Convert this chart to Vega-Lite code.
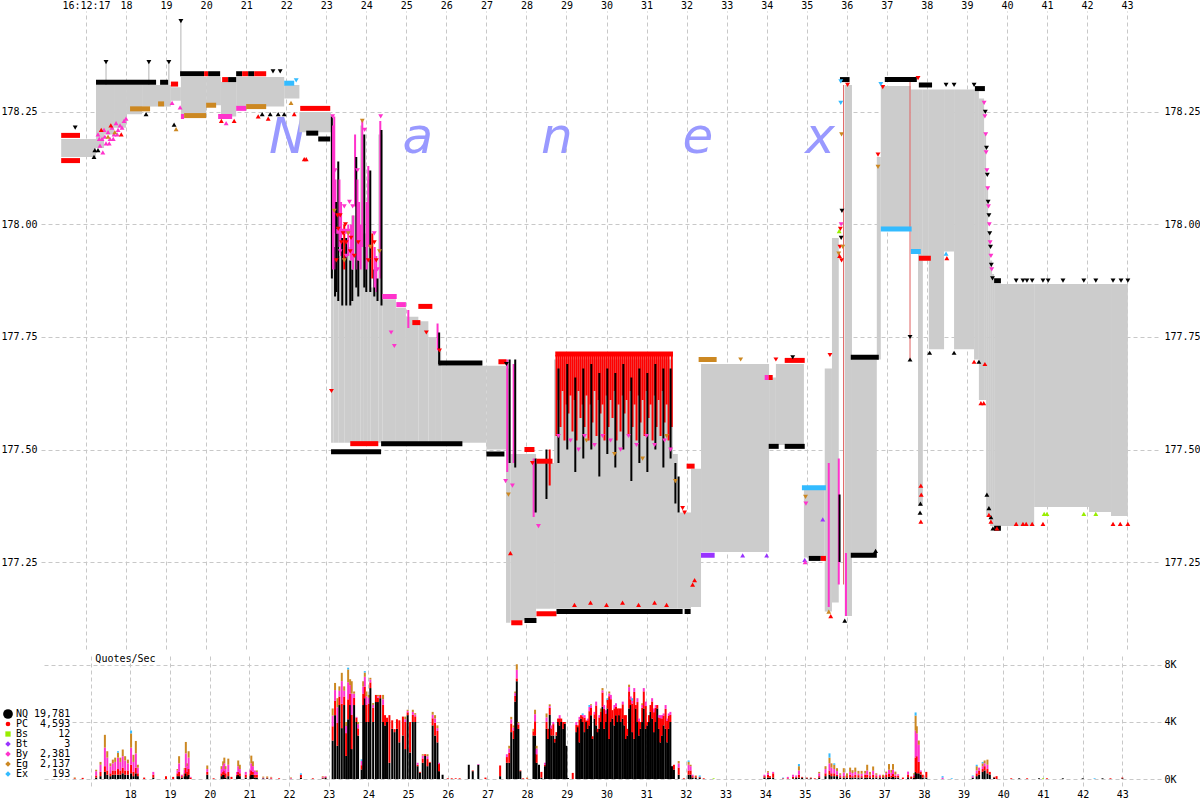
{
"$schema":"https://vega.github.io/schema/vega-lite/v6.json",
"padding":0,
"background":"white",
"spacing":4,
"config":{"view":{"stroke":null},"axis":{"labelFont":"DejaVu Sans Mono","labelFontSize":10,"labelColor":"#000000","domain":false,"ticks":false,"gridColor":"#c8c8c8","gridDash":[4,3],"labelOverlap":false,"labelFlush":false}},
"datasets":{
"band":[
{"t1":16.38,"t2":17.25,"a":178.19,"b":178.15},
{"t1":17.25,"t2":17.45,"a":178.31,"b":178.17},
{"t1":17.45,"t2":17.7,"a":178.31,"b":178.2},
{"t1":17.7,"t2":18.0,"a":178.31,"b":178.215},
{"t1":18.0,"t2":18.4,"a":178.31,"b":178.245},
{"t1":18.4,"t2":19.12,"a":178.31,"b":178.262},
{"t1":19.12,"t2":19.37,"a":178.305,"b":178.275},
{"t1":19.37,"t2":20.0,"a":178.328,"b":178.245},
{"t1":20.0,"t2":20.37,"a":178.328,"b":178.265},
{"t1":20.37,"t2":20.75,"a":178.317,"b":178.24},
{"t1":20.75,"t2":21.95,"a":178.328,"b":178.262},
{"t1":21.95,"t2":22.33,"a":178.31,"b":178.28},
{"t1":22.33,"t2":23.12,"a":178.25,"b":178.205},
{"t1":23.12,"t2":23.18,"a":177.9,"b":177.515},
{"t1":23.18,"t2":23.3,"a":177.98,"b":177.515},
{"t1":23.3,"t2":23.45,"a":177.93,"b":177.515},
{"t1":23.45,"t2":23.62,"a":177.95,"b":177.515},
{"t1":23.62,"t2":23.72,"a":178.02,"b":177.515},
{"t1":23.72,"t2":23.85,"a":177.92,"b":177.515},
{"t1":23.85,"t2":23.92,"a":178.22,"b":177.515},
{"t1":23.92,"t2":24.02,"a":177.98,"b":177.515},
{"t1":24.02,"t2":24.1,"a":178.1,"b":177.515},
{"t1":24.1,"t2":24.3,"a":177.86,"b":177.515},
{"t1":24.3,"t2":24.4,"a":178.2,"b":177.515},
{"t1":24.4,"t2":24.74,"a":177.834,"b":177.515},
{"t1":24.74,"t2":24.99,"a":177.815,"b":177.515},
{"t1":24.99,"t2":25.3,"a":177.795,"b":177.515},
{"t1":25.3,"t2":25.55,"a":177.785,"b":177.515},
{"t1":25.55,"t2":25.74,"a":177.75,"b":177.515},
{"t1":25.74,"t2":25.87,"a":177.72,"b":177.515},
{"t1":25.87,"t2":27.0,"a":177.686,"b":177.515},
{"t1":27.0,"t2":27.49,"a":177.686,"b":177.5},
{"t1":27.49,"t2":27.6,"a":177.68,"b":177.115},
{"t1":27.6,"t2":28.24,"a":177.49,"b":177.12},
{"t1":28.24,"t2":28.69,"a":177.47,"b":177.146},
{"t1":28.69,"t2":31.66,"a":177.7,"b":177.146},
{"t1":31.66,"t2":31.78,"a":177.49,"b":177.146},
{"t1":31.78,"t2":32.11,"a":177.36,"b":177.146},
{"t1":32.11,"t2":32.36,"a":177.457,"b":177.15},
{"t1":32.36,"t2":34.06,"a":177.69,"b":177.272},
{"t1":34.06,"t2":34.23,"a":177.66,"b":177.51},
{"t1":34.23,"t2":34.93,"a":177.69,"b":177.51},
{"t1":34.93,"t2":35.45,"a":177.41,"b":177.26},
{"t1":35.45,"t2":35.63,"a":177.68,"b":177.14},
{"t1":35.63,"t2":35.8,"a":177.97,"b":177.16},
{"t1":35.95,"t2":36.13,"a":178.31,"b":177.13},
{"t1":36.13,"t2":36.75,"a":177.7,"b":177.27},
{"t1":36.75,"t2":36.85,"a":178.15,"b":177.7},
{"t1":36.85,"t2":37.6,"a":178.308,"b":177.994},
{"t1":37.6,"t2":37.78,"a":178.3,"b":177.94},
{"t1":37.78,"t2":37.9,"a":178.3,"b":177.375},
{"t1":37.9,"t2":38.05,"a":178.3,"b":177.92},
{"t1":38.05,"t2":38.43,"a":178.3,"b":177.723},
{"t1":38.43,"t2":38.68,"a":178.3,"b":177.94},
{"t1":38.68,"t2":39.18,"a":178.3,"b":177.723},
{"t1":39.18,"t2":39.3,"a":178.3,"b":177.7},
{"t1":39.3,"t2":39.43,"a":178.28,"b":177.61},
{"t1":39.43,"t2":39.48,"a":178.2,"b":177.61},
{"t1":39.48,"t2":39.53,"a":178.08,"b":177.35},
{"t1":39.53,"t2":39.58,"a":177.98,"b":177.35},
{"t1":39.58,"t2":39.63,"a":177.92,"b":177.33},
{"t1":39.63,"t2":39.68,"a":177.89,"b":177.33},
{"t1":39.68,"t2":40.68,"a":177.868,"b":177.33},
{"t1":40.68,"t2":42.05,"a":177.868,"b":177.372},
{"t1":42.05,"t2":42.6,"a":177.868,"b":177.361},
{"t1":42.6,"t2":43.02,"a":177.868,"b":177.352}
],
"strips":[
{"t1":16.38,"t2":16.85,"p":178.198,"ex":"PC"},
{"t1":16.38,"t2":16.85,"p":178.142,"ex":"PC"},
{"t1":17.25,"t2":18.75,"p":178.316,"ex":"NQ"},
{"t1":18.85,"t2":19.05,"p":178.316,"ex":"NQ"},
{"t1":19.12,"t2":19.3,"p":178.312,"ex":"PC"},
{"t1":19.35,"t2":19.95,"p":178.335,"ex":"NQ"},
{"t1":19.95,"t2":20.05,"p":178.335,"ex":"PC"},
{"t1":20.05,"t2":20.35,"p":178.335,"ex":"NQ"},
{"t1":20.4,"t2":20.55,"p":178.322,"ex":"PC"},
{"t1":20.55,"t2":20.75,"p":178.322,"ex":"NQ"},
{"t1":20.75,"t2":20.9,"p":178.335,"ex":"NQ"},
{"t1":20.9,"t2":21.05,"p":178.335,"ex":"PC"},
{"t1":21.05,"t2":21.2,"p":178.335,"ex":"NQ"},
{"t1":21.2,"t2":21.5,"p":178.335,"ex":"PC"},
{"t1":21.95,"t2":22.2,"p":178.314,"ex":"Ex"},
{"t1":22.35,"t2":23.1,"p":178.258,"ex":"PC"},
{"t1":23.25,"t2":23.6,"p":177.985,"ex":"By"},
{"t1":24.4,"t2":24.76,"p":177.84,"ex":"By"},
{"t1":24.75,"t2":24.99,"p":177.822,"ex":"By"},
{"t1":25.15,"t2":25.35,"p":177.782,"ex":"PC"},
{"t1":25.3,"t2":25.65,"p":177.818,"ex":"PC"},
{"t1":25.8,"t2":26.9,"p":177.692,"ex":"NQ"},
{"t1":27.3,"t2":27.5,"p":177.695,"ex":"PC"},
{"t1":27.95,"t2":28.2,"p":177.5,"ex":"PC"},
{"t1":28.25,"t2":28.65,"p":177.474,"ex":"PC"},
{"t1":28.72,"t2":31.66,"p":177.712,"ex":"PC"},
{"t1":32.0,"t2":32.2,"p":177.463,"ex":"PC"},
{"t1":32.3,"t2":32.75,"p":177.7,"ex":"Eg"},
{"t1":33.95,"t2":34.05,"p":177.66,"ex":"By"},
{"t1":34.05,"t2":34.15,"p":177.66,"ex":"PC"},
{"t1":34.45,"t2":34.95,"p":177.698,"ex":"PC"},
{"t1":34.88,"t2":35.48,"p":177.415,"ex":"Ex"},
{"t1":35.83,"t2":36.07,"p":178.322,"ex":"NQ"},
{"t1":36.1,"t2":36.8,"p":177.705,"ex":"NQ"},
{"t1":36.95,"t2":37.75,"p":178.322,"ex":"NQ"},
{"t1":37.8,"t2":38.13,"p":178.31,"ex":"NQ"},
{"t1":39.2,"t2":39.45,"p":178.302,"ex":"NQ"},
{"t1":39.68,"t2":39.85,"p":177.875,"ex":"NQ"},
{"t1":18.1,"t2":18.6,"p":178.257,"ex":"Eg"},
{"t1":18.8,"t2":18.95,"p":178.268,"ex":"Eg"},
{"t1":19.37,"t2":19.45,"p":178.24,"ex":"By"},
{"t1":19.45,"t2":20.0,"p":178.242,"ex":"Eg"},
{"t1":20.0,"t2":20.25,"p":178.265,"ex":"Eg"},
{"t1":20.3,"t2":20.65,"p":178.24,"ex":"By"},
{"t1":20.75,"t2":21.0,"p":178.258,"ex":"By"},
{"t1":21.0,"t2":21.5,"p":178.262,"ex":"Eg"},
{"t1":22.5,"t2":22.8,"p":178.203,"ex":"NQ"},
{"t1":22.8,"t2":23.1,"p":178.19,"ex":"NQ"},
{"t1":23.12,"t2":24.37,"p":177.495,"ex":"NQ"},
{"t1":23.6,"t2":24.3,"p":177.513,"ex":"PC"},
{"t1":24.37,"t2":26.4,"p":177.513,"ex":"NQ"},
{"t1":27.0,"t2":27.45,"p":177.49,"ex":"NQ"},
{"t1":27.62,"t2":27.9,"p":177.115,"ex":"PC"},
{"t1":27.95,"t2":28.25,"p":177.12,"ex":"NQ"},
{"t1":28.25,"t2":28.75,"p":177.135,"ex":"PC"},
{"t1":28.75,"t2":31.9,"p":177.14,"ex":"NQ"},
{"t1":31.95,"t2":32.1,"p":177.14,"ex":"NQ"},
{"t1":32.36,"t2":32.7,"p":177.265,"ex":"Bt"},
{"t1":34.05,"t2":34.3,"p":177.507,"ex":"NQ"},
{"t1":34.45,"t2":34.95,"p":177.507,"ex":"NQ"},
{"t1":35.05,"t2":35.35,"p":177.258,"ex":"NQ"},
{"t1":35.35,"t2":35.48,"p":177.258,"ex":"PC"},
{"t1":36.1,"t2":36.75,"p":177.265,"ex":"NQ"},
{"t1":36.85,"t2":37.62,"p":177.99,"ex":"Ex"},
{"t1":37.6,"t2":37.85,"p":177.94,"ex":"Ex"},
{"t1":37.8,"t2":38.1,"p":177.925,"ex":"PC"},
{"t1":39.68,"t2":39.85,"p":177.325,"ex":"NQ"}
],
"streaks":[
{"t":23.14,"p1":177.88,"p2":178.24,"ex":"NQ"},
{"t":23.17,"p1":177.9,"p2":178.22,"ex":"By"},
{"t":23.2,"p1":177.98,"p2":178.24,"ex":"By"},
{"t":23.22,"p1":177.84,"p2":177.95,"ex":"NQ"},
{"t":23.23,"p1":177.9,"p2":178.1,"ex":"By"},
{"t":23.25,"p1":177.85,"p2":178.05,"ex":"NQ"},
{"t":23.3,"p1":177.83,"p2":178.14,"ex":"NQ"},
{"t":23.33,"p1":177.95,"p2":178.1,"ex":"By"},
{"t":23.37,"p1":177.93,"p2":178.05,"ex":"By"},
{"t":23.4,"p1":177.82,"p2":177.97,"ex":"NQ"},
{"t":23.45,"p1":177.9,"p2":178.0,"ex":"PC"},
{"t":23.5,"p1":177.82,"p2":177.97,"ex":"NQ"},
{"t":23.55,"p1":177.93,"p2":178.0,"ex":"By"},
{"t":23.6,"p1":177.82,"p2":177.92,"ex":"NQ"},
{"t":23.62,"p1":177.92,"p2":178.0,"ex":"By"},
{"t":23.65,"p1":177.83,"p2":177.9,"ex":"NQ"},
{"t":23.67,"p1":177.9,"p2":178.02,"ex":"By"},
{"t":23.72,"p1":178.04,"p2":178.2,"ex":"By"},
{"t":23.75,"p1":177.86,"p2":178.15,"ex":"NQ"},
{"t":23.78,"p1":177.9,"p2":178.1,"ex":"By"},
{"t":23.8,"p1":177.84,"p2":177.92,"ex":"NQ"},
{"t":23.82,"p1":177.92,"p2":178.05,"ex":"By"},
{"t":23.86,"p1":177.9,"p2":178.0,"ex":"By"},
{"t":23.9,"p1":177.95,"p2":178.23,"ex":"By"},
{"t":23.95,"p1":177.86,"p2":178.2,"ex":"NQ"},
{"t":24.0,"p1":177.85,"p2":177.95,"ex":"NQ"},
{"t":24.01,"p1":177.9,"p2":178.05,"ex":"By"},
{"t":24.05,"p1":177.95,"p2":178.13,"ex":"By"},
{"t":24.1,"p1":177.85,"p2":178.12,"ex":"NQ"},
{"t":24.15,"p1":177.88,"p2":177.98,"ex":"PC"},
{"t":24.2,"p1":177.84,"p2":177.9,"ex":"NQ"},
{"t":24.21,"p1":177.86,"p2":177.95,"ex":"By"},
{"t":24.25,"p1":177.85,"p2":177.93,"ex":"By"},
{"t":24.28,"p1":177.83,"p2":177.88,"ex":"NQ"},
{"t":24.35,"p1":177.88,"p2":178.23,"ex":"By"},
{"t":24.38,"p1":177.82,"p2":178.21,"ex":"NQ"},
{"t":25.05,"p1":177.77,"p2":177.81,"ex":"By"},
{"t":25.78,"p1":177.72,"p2":177.78,"ex":"By"},
{"t":25.82,"p1":177.69,"p2":177.76,"ex":"NQ"},
{"t":27.52,"p1":177.45,"p2":177.7,"ex":"By"},
{"t":27.58,"p1":177.47,"p2":177.7,"ex":"NQ"},
{"t":27.68,"p1":177.47,"p2":177.69,"ex":"By"},
{"t":27.72,"p1":177.46,"p2":177.7,"ex":"NQ"},
{"t":28.18,"p1":177.35,"p2":177.48,"ex":"By"},
{"t":28.23,"p1":177.36,"p2":177.48,"ex":"NQ"},
{"t":28.5,"p1":177.39,"p2":177.5,"ex":"NQ"},
{"t":28.58,"p1":177.42,"p2":177.5,"ex":"PC"},
{"t":28.75,"p1":177.53,"p2":177.71,"ex":"PC"},
{"t":28.8,"p1":177.61,"p2":177.71,"ex":"PC"},
{"t":28.85,"p1":177.55,"p2":177.71,"ex":"PC"},
{"t":28.9,"p1":177.63,"p2":177.71,"ex":"PC"},
{"t":28.95,"p1":177.52,"p2":177.71,"ex":"PC"},
{"t":29.0,"p1":177.6,"p2":177.71,"ex":"PC"},
{"t":29.05,"p1":177.58,"p2":177.71,"ex":"PC"},
{"t":29.1,"p1":177.62,"p2":177.71,"ex":"PC"},
{"t":29.15,"p1":177.54,"p2":177.71,"ex":"PC"},
{"t":29.2,"p1":177.61,"p2":177.71,"ex":"PC"},
{"t":29.25,"p1":177.52,"p2":177.71,"ex":"PC"},
{"t":29.3,"p1":177.63,"p2":177.71,"ex":"PC"},
{"t":29.35,"p1":177.57,"p2":177.71,"ex":"PC"},
{"t":29.4,"p1":177.6,"p2":177.71,"ex":"PC"},
{"t":29.45,"p1":177.55,"p2":177.71,"ex":"PC"},
{"t":29.5,"p1":177.62,"p2":177.71,"ex":"PC"},
{"t":29.55,"p1":177.52,"p2":177.71,"ex":"PC"},
{"t":29.6,"p1":177.6,"p2":177.71,"ex":"PC"},
{"t":29.65,"p1":177.56,"p2":177.71,"ex":"PC"},
{"t":29.7,"p1":177.63,"p2":177.71,"ex":"PC"},
{"t":29.75,"p1":177.53,"p2":177.71,"ex":"PC"},
{"t":29.8,"p1":177.61,"p2":177.71,"ex":"PC"},
{"t":29.85,"p1":177.58,"p2":177.71,"ex":"PC"},
{"t":29.9,"p1":177.6,"p2":177.71,"ex":"PC"},
{"t":29.95,"p1":177.52,"p2":177.71,"ex":"PC"},
{"t":30.0,"p1":177.62,"p2":177.71,"ex":"PC"},
{"t":30.05,"p1":177.55,"p2":177.71,"ex":"PC"},
{"t":30.1,"p1":177.61,"p2":177.71,"ex":"PC"},
{"t":30.15,"p1":177.57,"p2":177.71,"ex":"PC"},
{"t":30.2,"p1":177.63,"p2":177.71,"ex":"PC"},
{"t":30.25,"p1":177.52,"p2":177.71,"ex":"PC"},
{"t":30.3,"p1":177.6,"p2":177.71,"ex":"PC"},
{"t":30.35,"p1":177.54,"p2":177.71,"ex":"PC"},
{"t":30.4,"p1":177.62,"p2":177.71,"ex":"PC"},
{"t":30.45,"p1":177.58,"p2":177.71,"ex":"PC"},
{"t":30.5,"p1":177.61,"p2":177.71,"ex":"PC"},
{"t":30.55,"p1":177.53,"p2":177.71,"ex":"PC"},
{"t":30.6,"p1":177.63,"p2":177.71,"ex":"PC"},
{"t":30.65,"p1":177.55,"p2":177.71,"ex":"PC"},
{"t":30.7,"p1":177.6,"p2":177.71,"ex":"PC"},
{"t":30.75,"p1":177.52,"p2":177.71,"ex":"PC"},
{"t":30.8,"p1":177.62,"p2":177.71,"ex":"PC"},
{"t":30.85,"p1":177.56,"p2":177.71,"ex":"PC"},
{"t":30.9,"p1":177.61,"p2":177.71,"ex":"PC"},
{"t":30.95,"p1":177.53,"p2":177.71,"ex":"PC"},
{"t":31.0,"p1":177.63,"p2":177.71,"ex":"PC"},
{"t":31.05,"p1":177.57,"p2":177.71,"ex":"PC"},
{"t":31.1,"p1":177.6,"p2":177.71,"ex":"PC"},
{"t":31.15,"p1":177.52,"p2":177.71,"ex":"PC"},
{"t":31.2,"p1":177.62,"p2":177.71,"ex":"PC"},
{"t":31.25,"p1":177.55,"p2":177.71,"ex":"PC"},
{"t":31.3,"p1":177.61,"p2":177.71,"ex":"PC"},
{"t":31.35,"p1":177.53,"p2":177.71,"ex":"PC"},
{"t":31.4,"p1":177.63,"p2":177.71,"ex":"PC"},
{"t":31.45,"p1":177.56,"p2":177.71,"ex":"PC"},
{"t":31.5,"p1":177.6,"p2":177.71,"ex":"PC"},
{"t":31.55,"p1":177.52,"p2":177.71,"ex":"PC"},
{"t":31.63,"p1":177.55,"p2":177.71,"ex":"PC"},
{"t":28.8,"p1":177.47,"p2":177.68,"ex":"NQ"},
{"t":29.02,"p1":177.5,"p2":177.69,"ex":"NQ"},
{"t":29.22,"p1":177.45,"p2":177.66,"ex":"NQ"},
{"t":29.42,"p1":177.48,"p2":177.68,"ex":"NQ"},
{"t":29.62,"p1":177.5,"p2":177.69,"ex":"NQ"},
{"t":29.82,"p1":177.44,"p2":177.67,"ex":"NQ"},
{"t":30.02,"p1":177.49,"p2":177.68,"ex":"NQ"},
{"t":30.22,"p1":177.46,"p2":177.67,"ex":"NQ"},
{"t":30.42,"p1":177.5,"p2":177.69,"ex":"NQ"},
{"t":30.62,"p1":177.43,"p2":177.66,"ex":"NQ"},
{"t":30.82,"p1":177.47,"p2":177.68,"ex":"NQ"},
{"t":31.02,"p1":177.45,"p2":177.67,"ex":"NQ"},
{"t":31.22,"p1":177.5,"p2":177.69,"ex":"NQ"},
{"t":31.42,"p1":177.46,"p2":177.68,"ex":"NQ"},
{"t":31.6,"p1":177.48,"p2":177.68,"ex":"NQ"},
{"t":31.72,"p1":177.38,"p2":177.47,"ex":"NQ"},
{"t":31.8,"p1":177.36,"p2":177.44,"ex":"NQ"},
{"t":35.55,"p1":177.15,"p2":177.47,"ex":"By"},
{"t":35.8,"p1":177.2,"p2":177.48,"ex":"By"},
{"t":35.82,"p1":177.25,"p2":177.4,"ex":"NQ"},
{"t":35.98,"p1":177.13,"p2":177.27,"ex":"By"}
],
"stems":[
{"t":17.5,"p1":178.31,"p2":178.36},
{"t":18.57,"p1":178.31,"p2":178.36},
{"t":19.07,"p1":178.31,"p2":178.36},
{"t":19.37,"p1":178.33,"p2":178.45}
],
"redlines":[
{"t":35.92,"p1":177.2,"p2":178.31},
{"t":37.58,"p1":177.7,"p2":178.32}
],
"wm":[
{"ch":"N","t":22.04},{"ch":"a","t":25.29},{"ch":"n","t":28.76},{"ch":"e","t":32.28},{"ch":"x","t":35.33}
],
"pts":[
{"t":16.73,"p":178.215,"ex":"NQ","s":"a"},
{"t":17.2,"p":178.15,"ex":"NQ","s":"b"},
{"t":17.22,"p":178.165,"ex":"NQ","s":"b"},
{"t":17.5,"p":178.361,"ex":"NQ","s":"a"},
{"t":18.57,"p":178.361,"ex":"NQ","s":"a"},
{"t":19.07,"p":178.361,"ex":"NQ","s":"a"},
{"t":19.37,"p":178.452,"ex":"NQ","s":"a"},
{"t":17.3,"p":178.2,"ex":"By","s":"b"},
{"t":17.35,"p":178.175,"ex":"By","s":"b"},
{"t":17.4,"p":178.19,"ex":"By","s":"b"},
{"t":17.45,"p":178.21,"ex":"By","s":"b"},
{"t":17.5,"p":178.18,"ex":"By","s":"b"},
{"t":17.55,"p":178.205,"ex":"By","s":"b"},
{"t":17.6,"p":178.19,"ex":"By","s":"b"},
{"t":17.65,"p":178.215,"ex":"By","s":"b"},
{"t":17.7,"p":178.2,"ex":"By","s":"b"},
{"t":17.75,"p":178.225,"ex":"By","s":"b"},
{"t":17.8,"p":178.21,"ex":"By","s":"b"},
{"t":17.85,"p":178.22,"ex":"By","s":"b"},
{"t":17.9,"p":178.215,"ex":"By","s":"b"},
{"t":17.95,"p":178.23,"ex":"By","s":"b"},
{"t":18.0,"p":178.235,"ex":"By","s":"b"},
{"t":17.42,"p":178.16,"ex":"By","s":"b"},
{"t":17.33,"p":178.19,"ex":"By","s":"b"},
{"t":17.47,"p":178.195,"ex":"By","s":"b"},
{"t":17.58,"p":178.18,"ex":"By","s":"b"},
{"t":17.68,"p":178.19,"ex":"By","s":"b"},
{"t":17.78,"p":178.2,"ex":"By","s":"b"},
{"t":17.38,"p":178.21,"ex":"PC","s":"b"},
{"t":17.62,"p":178.22,"ex":"PC","s":"b"},
{"t":17.88,"p":178.2,"ex":"PC","s":"b"},
{"t":17.55,"p":178.195,"ex":"Eg","s":"b"},
{"t":17.72,"p":178.205,"ex":"Eg","s":"b"},
{"t":17.3,"p":178.165,"ex":"NQ","s":"b"},
{"t":18.5,"p":178.245,"ex":"NQ","s":"b"},
{"t":19.2,"p":178.222,"ex":"NQ","s":"b"},
{"t":19.25,"p":178.212,"ex":"Eg","s":"b"},
{"t":19.35,"p":178.26,"ex":"By","s":"b"},
{"t":19.15,"p":178.27,"ex":"By","s":"b"},
{"t":20.38,"p":178.23,"ex":"PC","s":"b"},
{"t":20.5,"p":178.225,"ex":"By","s":"b"},
{"t":20.7,"p":178.23,"ex":"PC","s":"b"},
{"t":21.3,"p":178.24,"ex":"PC","s":"b"},
{"t":21.4,"p":178.245,"ex":"NQ","s":"b"},
{"t":21.6,"p":178.245,"ex":"NQ","s":"b"},
{"t":21.8,"p":178.245,"ex":"NQ","s":"b"},
{"t":21.95,"p":178.245,"ex":"NQ","s":"b"},
{"t":21.55,"p":178.235,"ex":"PC","s":"b"},
{"t":22.12,"p":178.27,"ex":"Eg","s":"b"},
{"t":22.2,"p":178.245,"ex":"PC","s":"b"},
{"t":21.67,"p":178.34,"ex":"NQ","s":"a"},
{"t":21.85,"p":178.34,"ex":"NQ","s":"a"},
{"t":22.45,"p":178.145,"ex":"PC","s":"b"},
{"t":22.5,"p":178.145,"ex":"PC","s":"b"},
{"t":22.25,"p":178.32,"ex":"Ex","s":"a"},
{"t":23.28,"p":178.02,"ex":"PC","s":"a"},
{"t":23.35,"p":178.02,"ex":"PC","s":"a"},
{"t":23.3,"p":177.99,"ex":"PC","s":"a"},
{"t":23.38,"p":177.96,"ex":"PC","s":"a"},
{"t":23.5,"p":177.96,"ex":"PC","s":"a"},
{"t":23.6,"p":177.94,"ex":"PC","s":"a"},
{"t":23.25,"p":177.92,"ex":"PC","s":"a"},
{"t":23.42,"p":177.98,"ex":"PC","s":"a"},
{"t":23.48,"p":178.0,"ex":"PC","s":"a"},
{"t":23.62,"p":177.97,"ex":"PC","s":"a"},
{"t":23.7,"p":177.93,"ex":"PC","s":"a"},
{"t":23.8,"p":177.96,"ex":"PC","s":"a"},
{"t":24.05,"p":177.92,"ex":"PC","s":"a"},
{"t":24.2,"p":177.96,"ex":"PC","s":"a"},
{"t":24.25,"p":177.92,"ex":"PC","s":"a"},
{"t":23.13,"p":177.63,"ex":"PC","s":"a"},
{"t":23.2,"p":178.03,"ex":"Eg","s":"a"},
{"t":23.55,"p":177.98,"ex":"Eg","s":"a"},
{"t":24.1,"p":177.95,"ex":"Eg","s":"a"},
{"t":23.9,"p":178.23,"ex":"Eg","s":"a"},
{"t":24.33,"p":177.94,"ex":"Eg","s":"a"},
{"t":23.45,"p":177.92,"ex":"Eg","s":"a"},
{"t":23.16,"p":178.24,"ex":"By","s":"a"},
{"t":24.36,"p":178.24,"ex":"By","s":"a"},
{"t":23.96,"p":178.21,"ex":"By","s":"a"},
{"t":23.22,"p":178.12,"ex":"By","s":"a"},
{"t":23.45,"p":178.04,"ex":"By","s":"a"},
{"t":23.58,"p":178.05,"ex":"By","s":"a"},
{"t":23.66,"p":178.04,"ex":"By","s":"a"},
{"t":23.78,"p":178.12,"ex":"By","s":"a"},
{"t":24.2,"p":177.98,"ex":"By","s":"a"},
{"t":24.28,"p":177.9,"ex":"By","s":"a"},
{"t":23.35,"p":177.94,"ex":"By","s":"a"},
{"t":23.5,"p":177.93,"ex":"By","s":"a"},
{"t":24.62,"p":177.76,"ex":"By","s":"a"},
{"t":24.7,"p":177.73,"ex":"By","s":"a"},
{"t":25.5,"p":177.76,"ex":"PC","s":"a"},
{"t":25.83,"p":177.72,"ex":"PC","s":"a"},
{"t":27.55,"p":177.4,"ex":"Eg","s":"a"},
{"t":27.48,"p":177.43,"ex":"By","s":"a"},
{"t":27.65,"p":177.42,"ex":"By","s":"a"},
{"t":28.3,"p":177.33,"ex":"By","s":"a"},
{"t":28.1,"p":177.5,"ex":"PC","s":"a"},
{"t":28.15,"p":177.47,"ex":"PC","s":"a"},
{"t":27.6,"p":177.27,"ex":"PC","s":"b"},
{"t":27.5,"p":177.69,"ex":"NQ","s":"a"},
{"t":28.8,"p":177.53,"ex":"By","s":"a"},
{"t":29.1,"p":177.52,"ex":"By","s":"a"},
{"t":29.3,"p":177.5,"ex":"By","s":"a"},
{"t":29.45,"p":177.53,"ex":"By","s":"a"},
{"t":29.7,"p":177.51,"ex":"By","s":"a"},
{"t":29.9,"p":177.53,"ex":"By","s":"a"},
{"t":30.1,"p":177.52,"ex":"By","s":"a"},
{"t":30.35,"p":177.5,"ex":"By","s":"a"},
{"t":30.55,"p":177.53,"ex":"By","s":"a"},
{"t":30.75,"p":177.51,"ex":"By","s":"a"},
{"t":31.0,"p":177.53,"ex":"By","s":"a"},
{"t":31.2,"p":177.51,"ex":"By","s":"a"},
{"t":31.45,"p":177.52,"ex":"By","s":"a"},
{"t":31.6,"p":177.5,"ex":"By","s":"a"},
{"t":29.5,"p":177.52,"ex":"Eg","s":"a"},
{"t":30.2,"p":177.49,"ex":"Eg","s":"a"},
{"t":30.9,"p":177.48,"ex":"Eg","s":"a"},
{"t":31.5,"p":177.53,"ex":"Eg","s":"a"},
{"t":29.2,"p":177.155,"ex":"PC","s":"b"},
{"t":29.6,"p":177.16,"ex":"PC","s":"b"},
{"t":30.0,"p":177.155,"ex":"PC","s":"b"},
{"t":30.4,"p":177.16,"ex":"PC","s":"b"},
{"t":30.8,"p":177.155,"ex":"PC","s":"b"},
{"t":31.2,"p":177.16,"ex":"PC","s":"b"},
{"t":31.5,"p":177.155,"ex":"PC","s":"b"},
{"t":31.72,"p":177.43,"ex":"Eg","s":"a"},
{"t":31.9,"p":177.37,"ex":"PC","s":"a"},
{"t":31.95,"p":177.36,"ex":"PC","s":"a"},
{"t":32.15,"p":177.2,"ex":"PC","s":"b"},
{"t":32.2,"p":177.21,"ex":"PC","s":"b"},
{"t":33.4,"p":177.265,"ex":"Bt","s":"b"},
{"t":34.0,"p":177.265,"ex":"Bt","s":"b"},
{"t":33.35,"p":177.7,"ex":"Eg","s":"a"},
{"t":34.23,"p":177.7,"ex":"PC","s":"a"},
{"t":34.65,"p":177.705,"ex":"NQ","s":"a"},
{"t":34.95,"p":177.255,"ex":"Bt","s":"b"},
{"t":35.4,"p":177.345,"ex":"Bt","s":"b"},
{"t":34.96,"p":177.25,"ex":"By","s":"b"},
{"t":34.97,"p":177.395,"ex":"Eg","s":"a"},
{"t":34.98,"p":177.38,"ex":"By","s":"a"},
{"t":35.58,"p":177.71,"ex":"PC","s":"a"},
{"t":35.85,"p":178.318,"ex":"Ex","s":"a"},
{"t":35.85,"p":178.27,"ex":"Ex","s":"a"},
{"t":35.87,"p":178.2,"ex":"Eg","s":"a"},
{"t":36.02,"p":178.31,"ex":"PC","s":"a"},
{"t":35.88,"p":178.03,"ex":"NQ","s":"a"},
{"t":35.86,"p":178.0,"ex":"By","s":"a"},
{"t":35.84,"p":177.99,"ex":"PC","s":"a"},
{"t":35.81,"p":177.985,"ex":"Bs","s":"b"},
{"t":35.86,"p":177.97,"ex":"NQ","s":"a"},
{"t":35.83,"p":177.95,"ex":"PC","s":"a"},
{"t":35.9,"p":177.95,"ex":"Eg","s":"a"},
{"t":35.87,"p":177.92,"ex":"PC","s":"a"},
{"t":35.8,"p":177.935,"ex":"Eg","s":"a"},
{"t":35.82,"p":177.93,"ex":"PC","s":"b"},
{"t":35.6,"p":177.13,"ex":"PC","s":"b"},
{"t":35.55,"p":177.14,"ex":"Eg","s":"b"},
{"t":35.95,"p":177.12,"ex":"NQ","s":"b"},
{"t":36.72,"p":177.275,"ex":"NQ","s":"b"},
{"t":36.78,"p":178.155,"ex":"PC","s":"a"},
{"t":36.78,"p":178.128,"ex":"Eg","s":"a"},
{"t":36.9,"p":178.305,"ex":"PC","s":"a"},
{"t":36.85,"p":178.312,"ex":"Ex","s":"a"},
{"t":37.78,"p":178.325,"ex":"PC","s":"a"},
{"t":38.48,"p":178.31,"ex":"NQ","s":"a"},
{"t":38.68,"p":178.31,"ex":"NQ","s":"a"},
{"t":39.18,"p":178.31,"ex":"NQ","s":"a"},
{"t":38.48,"p":177.935,"ex":"Ex","s":"b"},
{"t":38.5,"p":177.925,"ex":"PC","s":"b"},
{"t":37.58,"p":177.75,"ex":"NQ","s":"a"},
{"t":37.58,"p":177.7,"ex":"NQ","s":"b"},
{"t":37.85,"p":177.42,"ex":"PC","s":"b"},
{"t":37.86,"p":177.4,"ex":"PC","s":"b"},
{"t":37.84,"p":177.38,"ex":"NQ","s":"b"},
{"t":37.83,"p":177.36,"ex":"NQ","s":"b"},
{"t":37.85,"p":177.34,"ex":"PC","s":"b"},
{"t":38.07,"p":177.715,"ex":"NQ","s":"b"},
{"t":38.68,"p":177.715,"ex":"NQ","s":"b"},
{"t":39.18,"p":177.695,"ex":"PC","s":"b"},
{"t":39.3,"p":177.695,"ex":"NQ","s":"b"},
{"t":39.45,"p":177.69,"ex":"PC","s":"b"},
{"t":39.35,"p":177.603,"ex":"PC","s":"b"},
{"t":39.42,"p":177.603,"ex":"PC","s":"b"},
{"t":39.43,"p":178.27,"ex":"By","s":"a"},
{"t":39.45,"p":178.24,"ex":"By","s":"a"},
{"t":39.47,"p":178.2,"ex":"By","s":"a"},
{"t":39.48,"p":178.16,"ex":"By","s":"a"},
{"t":39.5,"p":178.12,"ex":"By","s":"a"},
{"t":39.52,"p":178.08,"ex":"By","s":"a"},
{"t":39.54,"p":178.04,"ex":"By","s":"a"},
{"t":39.56,"p":178.0,"ex":"By","s":"a"},
{"t":39.58,"p":177.96,"ex":"By","s":"a"},
{"t":39.6,"p":177.93,"ex":"By","s":"a"},
{"t":39.62,"p":177.9,"ex":"By","s":"a"},
{"t":39.46,"p":178.25,"ex":"NQ","s":"a"},
{"t":39.49,"p":178.17,"ex":"NQ","s":"a"},
{"t":39.51,"p":178.11,"ex":"NQ","s":"a"},
{"t":39.53,"p":178.05,"ex":"NQ","s":"a"},
{"t":39.55,"p":178.02,"ex":"NQ","s":"a"},
{"t":39.57,"p":177.98,"ex":"NQ","s":"a"},
{"t":39.59,"p":177.95,"ex":"NQ","s":"a"},
{"t":39.61,"p":177.91,"ex":"NQ","s":"a"},
{"t":39.64,"p":177.88,"ex":"NQ","s":"a"},
{"t":39.5,"p":177.4,"ex":"NQ","s":"b"},
{"t":39.55,"p":177.37,"ex":"NQ","s":"b"},
{"t":39.6,"p":177.35,"ex":"NQ","s":"b"},
{"t":39.65,"p":177.325,"ex":"NQ","s":"b"},
{"t":39.55,"p":177.355,"ex":"PC","s":"b"},
{"t":39.6,"p":177.34,"ex":"PC","s":"b"},
{"t":39.75,"p":177.325,"ex":"PC","s":"b"},
{"t":40.23,"p":177.875,"ex":"NQ","s":"a"},
{"t":40.4,"p":177.875,"ex":"NQ","s":"a"},
{"t":40.5,"p":177.875,"ex":"NQ","s":"a"},
{"t":40.63,"p":177.875,"ex":"NQ","s":"a"},
{"t":40.9,"p":177.875,"ex":"NQ","s":"a"},
{"t":41.03,"p":177.875,"ex":"NQ","s":"a"},
{"t":41.4,"p":177.875,"ex":"NQ","s":"a"},
{"t":41.92,"p":177.875,"ex":"NQ","s":"a"},
{"t":42.22,"p":177.875,"ex":"NQ","s":"a"},
{"t":42.65,"p":177.875,"ex":"NQ","s":"a"},
{"t":42.85,"p":177.875,"ex":"NQ","s":"a"},
{"t":43.02,"p":177.875,"ex":"NQ","s":"a"},
{"t":40.23,"p":177.335,"ex":"PC","s":"b"},
{"t":40.4,"p":177.335,"ex":"PC","s":"b"},
{"t":40.48,"p":177.335,"ex":"PC","s":"b"},
{"t":40.63,"p":177.335,"ex":"PC","s":"b"},
{"t":40.9,"p":177.335,"ex":"PC","s":"b"},
{"t":42.65,"p":177.335,"ex":"PC","s":"b"},
{"t":42.83,"p":177.335,"ex":"PC","s":"b"},
{"t":43.02,"p":177.335,"ex":"PC","s":"b"},
{"t":40.93,"p":177.357,"ex":"Bs","s":"b"},
{"t":41.0,"p":177.357,"ex":"Bs","s":"b"},
{"t":41.92,"p":177.357,"ex":"Bs","s":"b"},
{"t":42.22,"p":177.357,"ex":"Bs","s":"b"}
],
"ord":[{"key":"NQ","o":1},{"key":"PC","o":2},{"key":"Bs","o":3},{"key":"Bt","o":4},{"key":"By","o":5},{"key":"Eg","o":6},{"key":"Ex","o":7}],
"vol":[
{"t":16.45,"PC":0.1},
{"t":16.6,"PC":0.05,"Eg":0.06},
{"t":16.8,"PC":0.08},
{"t":17.14,"NQ":0.1,"PC":0.15,"By":0.3,"Eg":0.1},
{"t":17.25,"NQ":0.2,"PC":0.3,"By":0.5,"Eg":0.2},
{"t":17.36,"NQ":0.5,"PC":0.4,"By":1.3,"Eg":0.9},
{"t":17.42,"NQ":0.3,"PC":0.3,"By":0.9,"Eg":0.45},
{"t":17.5,"NQ":0.2,"PC":0.2,"By":0.5,"Eg":0.2},
{"t":17.56,"NQ":0.3,"PC":0.3,"By":0.5,"Eg":0.26},
{"t":17.62,"NQ":0.3,"PC":0.3,"By":0.6,"Eg":0.3},
{"t":17.69,"NQ":0.3,"PC":0.4,"By":0.8,"Eg":0.35,"Ex":0.1},
{"t":17.75,"NQ":0.3,"PC":0.3,"By":0.6,"Eg":0.3},
{"t":17.81,"NQ":0.4,"PC":0.4,"By":0.8,"Eg":0.47},
{"t":17.87,"NQ":0.3,"PC":0.3,"By":0.7,"Eg":0.3},
{"t":17.94,"NQ":0.3,"PC":0.3,"By":0.5,"Eg":0.26},
{"t":18.02,"NQ":0.4,"PC":0.6,"By":1.2,"Eg":1.0,"Ex":0.2},
{"t":18.08,"NQ":0.2,"PC":0.3,"By":0.7,"Eg":0.5},
{"t":18.14,"NQ":0.4,"PC":0.4,"By":1.0,"Eg":0.87},
{"t":18.19,"NQ":0.2,"PC":0.2,"By":0.4,"Eg":0.2},
{"t":18.35,"PC":0.1},
{"t":18.58,"NQ":0.1,"PC":0.2,"By":0.2},
{"t":18.9,"PC":0.2},
{"t":19.08,"PC":0.15},
{"t":19.19,"NQ":0.2,"PC":0.2,"By":0.2,"Eg":0.1},
{"t":19.23,"NQ":0.2,"PC":0.3,"By":0.6,"Eg":0.5},
{"t":19.3,"NQ":0.1,"PC":0.1,"By":0.1},
{"t":19.37,"NQ":0.2,"PC":0.2,"By":0.26,"Eg":0.1},
{"t":19.4,"NQ":0.4,"PC":0.4,"By":1.0,"Eg":0.8},
{"t":19.44,"NQ":0.2,"PC":0.3,"By":0.4,"Eg":0.2},
{"t":19.47,"NQ":0.3,"PC":0.4,"By":0.8,"Eg":0.45},
{"t":19.52,"PC":0.1,"By":0.05},
{"t":19.94,"NQ":0.3,"PC":0.2,"By":0.2,"Eg":0.25},
{"t":20.1,"PC":0.05},
{"t":20.3,"NQ":0.2,"PC":0.2,"By":0.3,"Eg":0.2},
{"t":20.34,"NQ":0.3,"PC":0.2,"By":0.44,"Eg":0.3},
{"t":20.37,"NQ":0.3,"PC":0.3,"By":0.5,"Eg":0.4},
{"t":20.4,"NQ":0.1,"PC":0.3,"By":0.3,"Eg":0.2},
{"t":20.47,"NQ":0.2,"PC":0.3,"By":0.5,"Eg":0.43},
{"t":20.55,"PC":0.15},
{"t":20.69,"NQ":0.2,"PC":0.1,"By":0.2},
{"t":20.72,"NQ":0.3,"PC":0.2,"By":0.4,"Eg":0.4},
{"t":20.76,"NQ":0.2,"PC":0.2,"By":0.3,"Eg":0.3},
{"t":20.91,"NQ":0.1,"PC":0.2,"By":0.2},
{"t":21.03,"NQ":0.2,"PC":0.2,"By":0.24},
{"t":21.05,"NQ":0.3,"PC":0.3,"By":0.5,"Eg":0.54},
{"t":21.09,"NQ":0.3,"PC":0.2,"By":0.4,"Eg":0.34},
{"t":21.14,"NQ":0.1,"PC":0.2,"By":0.3},
{"t":21.19,"NQ":0.1,"PC":0.2,"By":0.2,"Eg":0.1},
{"t":21.35,"NQ":0.05,"By":0.05,"Eg":0.07},
{"t":21.45,"NQ":0.05,"PC":0.05,"Eg":0.08},
{"t":21.55,"PC":0.05,"By":0.05,"Eg":0.05},
{"t":21.75,"PC":0.05},
{"t":22.05,"By":0.05,"Eg":0.05},
{"t":22.3,"NQ":0.1,"PC":0.2,"Ex":0.1},
{"t":22.6,"PC":0.05},
{"t":22.85,"NQ":0.05,"PC":0.05,"By":0.05,"Eg":0.05},
{"t":22.92,"NQ":0.1,"PC":0.05,"By":0.05},
{"t":23.1,"NQ":2.7,"PC":1.0,"By":0.75,"Eg":0.5},
{"t":23.16,"NQ":4.48,"PC":1.0,"By":0.76,"Eg":0.5},
{"t":23.22,"NQ":2.33,"PC":1.6,"By":1.1,"Eg":0.64},
{"t":23.27,"NQ":5.19,"PC":0.6,"By":0.4,"Eg":0.31},
{"t":23.33,"NQ":3.57,"PC":1.7,"By":1.6,"Eg":0.58},
{"t":23.39,"NQ":5.19,"PC":0.6,"By":0.4,"Eg":0.31},
{"t":23.44,"NQ":1.62,"PC":1.6,"By":0.5,"Eg":0.28},
{"t":23.49,"NQ":4.19,"PC":1.4,"By":1.2,"Eg":0.9,"Ex":0.12},
{"t":23.54,"NQ":5.19,"PC":0.8,"By":0.6,"Eg":0.41},
{"t":23.58,"NQ":2.1,"PC":2.4,"By":1.5,"Eg":0.86},
{"t":23.64,"NQ":5.19,"PC":0.5,"By":0.3,"Eg":0.15},
{"t":23.7,"NQ":4.0,"PC":0.3,"By":0.06},
{"t":23.74,"NQ":3.05,"PC":0.5,"By":0.3,"Eg":0.15},
{"t":23.83,"NQ":0.67,"PC":0.3,"By":0.3,"Ex":0.11},
{"t":23.87,"NQ":5.19,"PC":0.8,"By":0.5,"Eg":0.37},
{"t":23.91,"NQ":5.67,"PC":0.8,"By":0.7,"Eg":0.3,"Ex":0.1},
{"t":23.95,"NQ":4.0,"PC":1.2,"By":0.6,"Eg":0.34},
{"t":24.01,"NQ":4.0,"PC":1.3,"By":0.4,"Eg":0.2},
{"t":24.05,"NQ":6.38,"PC":0.4,"By":0.2,"Eg":0.12},
{"t":24.12,"NQ":4.0,"PC":1.0,"By":0.2,"Eg":0.13},
{"t":24.19,"NQ":5.4,"PC":0.5},
{"t":24.24,"NQ":5.4,"PC":0.3,"By":0.1,"Eg":0.1},
{"t":24.3,"NQ":5.67,"PC":0.23},
{"t":24.37,"NQ":4.0,"PC":1.2,"By":0.4,"Eg":0.3},
{"t":24.42,"NQ":3.76,"PC":0.72},
{"t":24.47,"NQ":4.0,"PC":0.3},
{"t":24.53,"NQ":1.14,"PC":3.34},
{"t":24.6,"NQ":3.52,"PC":0.6},
{"t":24.66,"NQ":3.29,"PC":0.21},
{"t":24.72,"NQ":3.52,"PC":0.67},
{"t":24.78,"NQ":2.57,"PC":1.55},
{"t":24.87,"NQ":3.05,"PC":1.33},
{"t":24.93,"NQ":2.1,"PC":1.9,"By":0.2,"Eg":0.18},
{"t":24.99,"NQ":4.48,"PC":0.2,"By":0.1,"Eg":0.08},
{"t":25.05,"NQ":1.86,"PC":2.14},
{"t":25.12,"NQ":4.0,"PC":0.5,"By":0.2,"Eg":0.16},
{"t":25.18,"NQ":4.0,"PC":0.4,"By":0.12,"Eg":0.1},
{"t":25.24,"NQ":0.9,"PC":0.1,"By":0.14},
{"t":25.3,"NQ":0.43,"PC":0.07},
{"t":25.37,"NQ":1.14,"PC":0.3,"By":0.2,"Eg":0.1},
{"t":25.43,"NQ":1.62,"PC":0.12},
{"t":25.49,"NQ":0.9,"PC":0.5,"By":0.2,"Eg":0.14},
{"t":25.55,"NQ":1.14,"PC":0.06},
{"t":25.62,"NQ":3.76,"PC":0.5,"By":0.25,"Eg":0.2},
{"t":25.68,"NQ":3.05,"PC":0.9,"By":0.3,"Eg":0.23},
{"t":25.74,"NQ":2.57,"PC":0.8,"By":0.2,"Eg":0.19},
{"t":25.78,"NQ":0.55,"PC":0.5,"By":0.09},
{"t":25.87,"NQ":0.3},
{"t":26.0,"PC":0.05},
{"t":26.1,"PC":0.05},
{"t":26.2,"PC":0.05},
{"t":26.3,"PC":0.05},
{"t":26.53,"NQ":1.0},
{"t":26.63,"NQ":0.55,"PC":0.05},
{"t":26.77,"NQ":1.0,"By":0.05},
{"t":26.95,"PC":0.1},
{"t":27.32,"NQ":0.2,"PC":0.75},
{"t":27.49,"NQ":1.14,"PC":0.4,"By":0.2},
{"t":27.55,"NQ":1.14,"PC":0.7,"By":0.3,"Eg":0.19},
{"t":27.6,"NQ":3.29,"PC":0.6,"By":0.3,"Eg":0.17},
{"t":27.66,"NQ":2.81,"PC":0.6,"By":0.2,"Eg":0.15},
{"t":27.7,"NQ":5.43,"PC":0.4,"By":0.2,"Eg":0.11},
{"t":27.74,"NQ":6.86,"PC":0.2,"By":0.6,"Eg":0.39},
{"t":27.78,"NQ":3.52,"PC":0.3,"By":0.1,"Eg":0.08},
{"t":27.83,"NQ":0.55,"PC":0.05},
{"t":27.9,"PC":0.05},
{"t":28.0,"PC":0.05,"Eg":0.05},
{"t":28.16,"NQ":3.05,"PC":0.3,"Eg":0.17},
{"t":28.2,"NQ":3.05,"PC":1.0,"By":0.5,"Eg":0.31},
{"t":28.24,"NQ":1.14,"PC":0.6,"By":0.4,"Eg":0.19},
{"t":28.3,"NQ":1.0},
{"t":28.36,"NQ":0.1,"PC":0.4},
{"t":28.45,"NQ":0.9,"PC":0.1,"By":0.14},
{"t":28.49,"NQ":3.52,"PC":0.5,"By":0.3,"Eg":0.28},
{"t":28.53,"NQ":2.81,"PC":0.71},
{"t":28.57,"NQ":4.5,"PC":0.5,"By":0.12,"Eg":0.12},
{"t":28.61,"NQ":3.05,"PC":0.5,"By":0.21},
{"t":28.66,"NQ":3.05,"PC":0.8,"By":0.15},
{"t":28.7,"NQ":2.57,"PC":0.24},
{"t":28.74,"NQ":3.05,"PC":0.24},
{"t":28.78,"NQ":4.0,"PC":0.24},
{"t":28.82,"NQ":3.76,"PC":0.5,"By":0.22},
{"t":28.86,"NQ":4.0,"PC":0.24},
{"t":28.91,"NQ":3.52,"PC":0.48},
{"t":28.95,"NQ":3.88,"PC":0.12},
{"t":28.99,"NQ":2.33},
{"t":29.03,"NQ":0.07},
{"t":29.15,"PC":0.43},
{"t":29.24,"NQ":3.29,"PC":0.5,"By":0.21},
{"t":29.28,"NQ":3.64,"PC":0.12},
{"t":29.32,"NQ":2.57,"PC":1.6,"By":0.19},
{"t":29.36,"NQ":4.24,"PC":0.24},
{"t":29.4,"NQ":4.0,"PC":0.4,"By":0.1,"Ex":0.1},
{"t":29.45,"NQ":3.29,"PC":1.0,"By":0.19},
{"t":29.49,"NQ":4.0,"PC":0.1},
{"t":29.53,"NQ":3.52,"PC":0.6,"By":0.12},
{"t":29.57,"NQ":3.76,"PC":1.0,"By":0.3,"Ex":0.13},
{"t":29.61,"NQ":4.48,"PC":0.5,"By":0.2,"Eg":0.06},
{"t":29.65,"NQ":2.81,"PC":0.19},
{"t":29.7,"NQ":4.24,"PC":0.3,"By":0.17},
{"t":29.74,"NQ":3.76,"PC":1.4,"By":0.27},
{"t":29.78,"NQ":3.29,"PC":0.23},
{"t":29.82,"NQ":3.52,"PC":0.8,"By":0.16},
{"t":29.86,"NQ":4.0,"PC":0.7,"Eg":0.25},
{"t":29.9,"NQ":5.07,"PC":1.0,"By":0.15,"Eg":0.16},
{"t":29.94,"NQ":3.52,"PC":1.4,"By":0.27},
{"t":29.99,"NQ":4.0,"PC":0.6,"By":0.23},
{"t":30.03,"NQ":4.95,"PC":0.6,"Ex":0.12},
{"t":30.07,"NQ":2.81,"PC":3.0,"By":0.2,"Eg":0.13},
{"t":30.11,"NQ":4.0,"PC":1.6,"By":0.3},
{"t":30.15,"NQ":4.24,"PC":0.59},
{"t":30.2,"NQ":3.76,"PC":1.2,"By":0.23},
{"t":30.24,"NQ":4.48,"PC":0.6,"By":0.23},
{"t":30.28,"NQ":4.0,"PC":0.95},
{"t":30.32,"NQ":4.48,"PC":0.47},
{"t":30.36,"NQ":4.0,"PC":0.95},
{"t":30.41,"NQ":4.24,"PC":1.0,"By":0.19},
{"t":30.45,"NQ":3.76,"PC":0.72},
{"t":30.49,"NQ":2.81,"PC":1.67},
{"t":30.53,"NQ":3.05,"PC":0.47},
{"t":30.57,"NQ":4.95,"PC":1.2,"By":0.3,"Eg":0.17},
{"t":30.61,"NQ":5.19,"PC":0.4,"By":0.2},
{"t":30.65,"NQ":3.29,"PC":2.0,"By":0.2,"Ex":0.18},
{"t":30.7,"NQ":2.81,"PC":3.3,"By":0.27},
{"t":30.74,"NQ":4.95,"PC":0.24},
{"t":30.78,"NQ":4.0,"PC":1.4,"By":0.27},
{"t":30.82,"NQ":3.05,"PC":1.0,"By":0.19},
{"t":30.86,"NQ":3.52,"PC":0.48},
{"t":30.9,"NQ":4.0,"PC":1.0,"By":0.2,"Eg":0.11},
{"t":30.94,"NQ":4.95,"PC":1.2,"By":0.23},
{"t":30.99,"NQ":3.52,"PC":1.6,"By":0.31},
{"t":31.03,"NQ":3.76,"PC":0.24},
{"t":31.07,"NQ":4.0,"PC":0.48},
{"t":31.11,"NQ":4.71,"PC":0.48},
{"t":31.15,"NQ":4.24,"PC":1.2,"By":0.23},
{"t":31.2,"NQ":3.29,"PC":1.4,"By":0.26},
{"t":31.24,"NQ":4.0,"PC":1.0,"By":0.19},
{"t":31.28,"NQ":4.95,"PC":0.24},
{"t":31.32,"NQ":3.52,"PC":0.8,"By":0.16},
{"t":31.36,"NQ":2.57,"PC":1.7,"By":0.21},
{"t":31.4,"NQ":3.05,"PC":1.2,"By":0.23},
{"t":31.44,"NQ":3.76,"PC":0.7,"By":0.14},
{"t":31.49,"NQ":3.52,"PC":1.4,"By":0.27},
{"t":31.53,"NQ":2.57,"PC":1.5,"By":0.17},
{"t":31.57,"NQ":3.52,"PC":0.9,"By":0.18},
{"t":31.61,"NQ":4.0,"PC":0.5,"By":0.21},
{"t":31.65,"NQ":0.9},
{"t":31.7,"NQ":0.67,"PC":0.33},
{"t":31.82,"NQ":0.3,"PC":0.5,"By":0.3,"Eg":0.16},
{"t":31.95,"PC":0.05},
{"t":32.07,"NQ":0.3,"PC":0.3,"By":0.4,"Eg":0.2,"Ex":0.1},
{"t":32.12,"NQ":0.3,"PC":0.3,"By":0.3,"Eg":0.1},
{"t":32.17,"NQ":0.1,"PC":0.1,"By":0.1},
{"t":32.25,"NQ":0.1,"PC":0.1,"Eg":0.05},
{"t":32.35,"NQ":0.1,"PC":0.05,"Ex":0.1},
{"t":32.45,"PC":0.05},
{"t":32.7,"Bs":0.05},
{"t":33.98,"NQ":0.1,"PC":0.1,"By":0.1},
{"t":34.07,"NQ":0.1,"PC":0.2,"By":0.15,"Eg":0.1},
{"t":34.12,"NQ":0.1,"PC":0.1},
{"t":34.2,"NQ":0.1,"PC":0.3,"By":0.1},
{"t":34.45,"PC":0.05,"Ex":0.05},
{"t":34.57,"PC":0.05,"By":0.1},
{"t":34.7,"NQ":0.05,"PC":0.1,"By":0.15},
{"t":34.78,"NQ":0.1,"PC":0.05,"By":0.1},
{"t":34.85,"NQ":0.1,"PC":0.2,"By":0.3,"Eg":0.3,"Ex":0.15},
{"t":34.93,"NQ":0.1,"PC":0.05},
{"t":35.05,"NQ":0.05,"PC":0.05},
{"t":35.15,"NQ":0.05,"PC":0.05},
{"t":35.25,"PC":0.05},
{"t":35.36,"NQ":0.1,"PC":0.1,"By":0.2,"Eg":0.1},
{"t":35.52,"NQ":0.2,"PC":0.2,"By":0.3,"Eg":0.2},
{"t":35.62,"NQ":0.3,"PC":0.3,"By":0.5,"Eg":0.4,"Ex":0.3},
{"t":35.67,"NQ":0.2,"PC":0.2,"By":0.4,"Eg":0.3},
{"t":35.74,"NQ":0.2,"PC":0.2,"By":0.3,"Eg":0.3,"Ex":0.1},
{"t":35.81,"NQ":0.2,"PC":0.1,"By":0.26,"Eg":0.2},
{"t":35.89,"NQ":0.1,"PC":0.1,"By":0.1,"Eg":0.1},
{"t":35.98,"NQ":0.1,"PC":0.1,"By":0.26,"Eg":0.3},
{"t":36.06,"NQ":0.1,"PC":0.1,"Eg":0.2},
{"t":36.14,"NQ":0.1,"PC":0.2,"By":0.2,"Eg":0.3},
{"t":36.2,"NQ":0.1,"PC":0.1,"By":0.22,"Eg":0.2},
{"t":36.27,"NQ":0.1,"PC":0.2,"By":0.2,"Eg":0.3},
{"t":36.35,"NQ":0.1,"PC":0.17,"By":0.1,"Eg":0.2},
{"t":36.43,"NQ":0.1,"PC":0.1,"By":0.17,"Eg":0.2},
{"t":36.52,"NQ":0.1,"PC":0.2,"By":0.1,"Eg":0.17},
{"t":36.57,"NQ":0.1,"PC":0.2,"By":0.3,"Eg":0.4},
{"t":36.64,"NQ":0.1,"PC":0.1,"By":0.1,"Eg":0.2},
{"t":36.72,"NQ":0.1,"PC":0.2,"By":0.28,"Eg":0.3},
{"t":36.8,"NQ":0.1,"PC":0.1,"By":0.1,"Eg":0.1},
{"t":36.89,"NQ":0.1,"PC":0.1,"By":0.1},
{"t":36.97,"NQ":0.1,"PC":0.1,"Eg":0.1},
{"t":37.05,"NQ":0.12,"PC":0.2,"By":0.1,"Eg":0.1},
{"t":37.12,"NQ":0.15,"PC":0.2,"By":0.3,"Eg":0.4},
{"t":37.18,"NQ":0.1,"PC":0.14,"By":0.2,"Eg":0.2},
{"t":37.22,"NQ":0.15,"PC":0.2,"By":0.3,"Eg":0.4},
{"t":37.28,"NQ":0.1,"PC":0.12,"By":0.1,"Eg":0.2},
{"t":37.35,"NQ":0.1,"PC":0.13,"By":0.1},
{"t":37.47,"PC":0.1},
{"t":37.6,"NQ":0.12,"PC":0.2,"By":0.2},
{"t":37.68,"NQ":0.05,"PC":0.12},
{"t":37.75,"NQ":0.1,"PC":0.1,"By":0.1,"Eg":0.1},
{"t":37.79,"NQ":0.5,"PC":1.0,"By":1.9,"Eg":1.05,"Ex":0.22},
{"t":37.82,"NQ":0.4,"PC":1.2,"By":1.6,"Eg":0.5},
{"t":37.87,"NQ":0.4,"PC":0.8,"By":1.2,"Eg":0.3},
{"t":37.92,"NQ":0.3,"PC":0.2,"By":0.1},
{"t":37.97,"NQ":0.1,"PC":0.2},
{"t":38.06,"NQ":0.1,"PC":0.4},
{"t":38.47,"By":0.1,"Ex":0.1},
{"t":38.7,"Ex":0.05},
{"t":39.23,"NQ":0.1,"By":0.1,"Ex":0.05},
{"t":39.33,"NQ":0.2,"PC":0.2,"By":0.2,"Eg":0.3,"Ex":0.1},
{"t":39.39,"NQ":0.3,"PC":0.3,"By":0.2},
{"t":39.48,"NQ":0.5,"PC":0.2,"By":0.2,"Eg":0.2,"Ex":0.1},
{"t":39.53,"NQ":0.6,"PC":0.3,"By":0.2,"Eg":0.2},
{"t":39.6,"NQ":0.4,"PC":0.3,"By":0.3,"Eg":0.36},
{"t":39.66,"NQ":0.3,"PC":0.2},
{"t":39.77,"NQ":0.1,"PC":0.05},
{"t":39.83,"PC":0.2},
{"t":40.2,"PC":0.05},
{"t":40.4,"NQ":0.05},
{"t":40.6,"PC":0.05},
{"t":40.9,"NQ":0.05},
{"t":41.0,"Bs":0.05},
{"t":41.1,"PC":0.05},
{"t":41.5,"NQ":0.05},
{"t":42.0,"NQ":0.05},
{"t":42.3,"Ex":0.05},
{"t":42.5,"NQ":0.05},
{"t":42.7,"PC":0.05},
{"t":43.0,"NQ":0.05,"PC":0.05}
]
},
"resolve":{"scale":{"color":"independent","shape":"independent","size":"independent"}},
"vconcat":[
{
"width":1120,"height":638,
"resolve":{"scale":{"y":"independent"}},
"layer":[
{"layer":[
{"data":{"name":"wm"},"mark":{"type":"text","font":"DejaVu Sans","fontSize":50,"fontStyle":"italic","color":"#9999ff","align":"center","baseline":"alphabetic"},
 "encoding":{"x":{"field":"t","type":"quantitative","scale":{"domain":[15.876,43.848],"nice":false,"zero":false},"axis":{"orient":"top","values":[17,18,19,20,21,22,23,24,25,26,27,28,29,30,31,32,33,34,35,36,37,38,39,40,41,42,43],"labelExpr":"datum.value==17?'16:12:17':datum.label","grid":true,"labelPadding":1,"title":null}},
 "y":{"datum":178.159,"type":"quantitative","scale":{"domain":[177.0567,178.4744],"nice":false,"zero":false},"axis":{"orient":"left","values":[177.25,177.5,177.75,178,178.25],"format":".2f","grid":true,"labelPadding":4,"title":null}},
 "text":{"field":"ch"}}},
{"data":{"name":"band"},"mark":{"type":"rect","color":"#cccccc"},
 "encoding":{"x":{"field":"t1","type":"quantitative","scale":{"domain":[15.876,43.848],"nice":false,"zero":false}},"x2":{"field":"t2"},
 "y":{"field":"a","type":"quantitative","scale":{"domain":[177.0567,178.4744],"nice":false,"zero":false}},"y2":{"field":"b"}}},
{"data":{"name":"stems"},"mark":{"type":"rule","strokeWidth":1,"color":"#b4b4b4"},
 "encoding":{"x":{"field":"t","type":"quantitative","scale":{"domain":[15.876,43.848],"nice":false,"zero":false}},
 "y":{"field":"p1","type":"quantitative","scale":{"domain":[177.0567,178.4744],"nice":false,"zero":false}},"y2":{"field":"p2"}}},
{"data":{"name":"redlines"},"mark":{"type":"rule","strokeWidth":1,"color":"#e06060"},
 "encoding":{"x":{"field":"t","type":"quantitative","scale":{"domain":[15.876,43.848],"nice":false,"zero":false}},
 "y":{"field":"p1","type":"quantitative","scale":{"domain":[177.0567,178.4744],"nice":false,"zero":false}},"y2":{"field":"p2"}}},
{"data":{"name":"streaks"},"mark":{"type":"rule","strokeWidth":2},
 "encoding":{"x":{"field":"t","type":"quantitative","scale":{"domain":[15.876,43.848],"nice":false,"zero":false}},
 "y":{"field":"p1","type":"quantitative","scale":{"domain":[177.0567,178.4744],"nice":false,"zero":false}},"y2":{"field":"p2"},
 "color":{"field":"ex","type":"nominal","scale":{"domain":["NQ","PC","Bs","Bt","By","Eg","Ex"],"range":["#000000","#ff0000","#99ee00","#9933ff","#ff33cc","#cc8822","#33bbff"]},"legend":null}}},
{"data":{"name":"strips"},"mark":{"type":"rule","strokeWidth":5},
 "encoding":{"x":{"field":"t1","type":"quantitative","scale":{"domain":[15.876,43.848],"nice":false,"zero":false}},"x2":{"field":"t2"},
 "y":{"field":"p","type":"quantitative","scale":{"domain":[177.0567,178.4744],"nice":false,"zero":false}},
 "color":{"field":"ex","type":"nominal","scale":{"domain":["NQ","PC","Bs","Bt","By","Eg","Ex"],"range":["#000000","#ff0000","#99ee00","#9933ff","#ff33cc","#cc8822","#33bbff"]},"legend":null}}},
{"data":{"name":"pts"},"mark":{"type":"point","filled":true,"size":24,"opacity":1},
 "encoding":{"x":{"field":"t","type":"quantitative","scale":{"domain":[15.876,43.848],"nice":false,"zero":false}},
 "y":{"field":"p","type":"quantitative","scale":{"domain":[177.0567,178.4744],"nice":false,"zero":false}},
 "shape":{"field":"s","type":"nominal","scale":{"domain":["a","b"],"range":["triangle-down","triangle-up"]},"legend":null},
 "color":{"field":"ex","type":"nominal","scale":{"domain":["NQ","PC","Bs","Bt","By","Eg","Ex"],"range":["#000000","#ff0000","#99ee00","#9933ff","#ff33cc","#cc8822","#33bbff"]},"legend":null}}}
]},
{"data":{"name":"band"},"mark":{"type":"point","opacity":0},
 "encoding":{"y":{"field":"a","type":"quantitative","scale":{"domain":[177.0567,178.4744],"nice":false,"zero":false},"axis":{"orient":"right","values":[177.25,177.5,177.75,178,178.25],"format":".2f","grid":false,"labelPadding":3,"title":null}}}}
]
},
{
"width":1120,"height":130,
"layer":[
{"data":{"name":"vol"},
 "transform":[{"fold":["NQ","PC","Bs","Bt","By","Eg","Ex"],"as":["key","v"]},{"filter":"datum.v > 0"},{"lookup":"key","from":{"data":{"name":"ord"},"key":"key","fields":["o"]}}],
 "mark":{"type":"bar","width":2},
 "encoding":{"x":{"field":"t","type":"quantitative","scale":{"domain":[15.876,43.848],"nice":false,"zero":false},"axis":{"orient":"bottom","values":[17,18,19,20,21,22,23,24,25,26,27,28,29,30,31,32,33,34,35,36,37,38,39,40,41,42,43],"labelExpr":"datum.value==17?'':datum.label","grid":true,"labelPadding":3,"title":null}},
 "y":{"field":"v","type":"quantitative","stack":"zero","scale":{"domain":[-0.49,8.63],"nice":false,"zero":false},"axis":{"orient":"right","values":[0,2,4,6,8],"labelExpr":"datum.value+'K'","grid":true,"labelPadding":3,"title":null}},
 "color":{"field":"key","type":"nominal","scale":{"domain":["NQ","PC","Bs","Bt","By","Eg","Ex"],"range":["#000000","#ff0000","#99ee00","#9933ff","#ff33cc","#cc8822","#33bbff"]},
   "legend":{"orient":"none","legendX":-38,"legendY":53,"title":null,"labelFont":"DejaVu Sans Mono","labelFontSize":10,"labelColor":"#000000","rowPadding":0,"padding":0,"fillColor":"white","symbolStrokeWidth":0,"labelOffset":3,"direction":"vertical","labelExpr":"datum.label=='NQ'?'NQ\u00a019,781':datum.label=='PC'?'PC\u00a0\u00a04,593':datum.label=='Bs'?'Bs\u00a0\u00a0\u00a0\u00a0\u00a012':datum.label=='Bt'?'Bt\u00a0\u00a0\u00a0\u00a0\u00a0\u00a03':datum.label=='By'?'By\u00a0\u00a02,381':datum.label=='Eg'?'Eg\u00a0\u00a02,137':'Ex\u00a0\u00a0\u00a0\u00a0193'"}},
 "order":{"field":"o","type":"quantitative","sort":"ascending"}}},
{"data":{"values":[]},"mark":{"type":"point","filled":true,"opacity":1},
 "encoding":{
 "color":{"field":"key","type":"nominal","scale":{"domain":["NQ","PC","Bs","Bt","By","Eg","Ex"],"range":["#000000","#ff0000","#99ee00","#9933ff","#ff33cc","#cc8822","#33bbff"]}},
 "shape":{"field":"key","type":"nominal","scale":{"domain":["NQ","PC","Bs","Bt","By","Eg","Ex"],"range":["circle","circle","square","diamond","diamond","diamond","diamond"]}},
 "size":{"field":"key","type":"nominal","scale":{"type":"ordinal","domain":["NQ","PC","Bs","Bt","By","Eg","Ex"],"range":[95,22,28,30,30,30,30]}}}},
{"data":{"values":[{}]},"mark":{"type":"text","align":"left","baseline":"middle","font":"DejaVu Sans Mono","fontSize":10,"color":"#000000"},
 "encoding":{"x":{"datum":17.12,"type":"quantitative","scale":{"domain":[15.876,43.848],"nice":false,"zero":false}},
 "y":{"datum":8.42,"type":"quantitative","scale":{"domain":[-0.49,8.63],"nice":false,"zero":false}},
 "text":{"value":"Quotes/Sec"}}}
]
}
]
}
